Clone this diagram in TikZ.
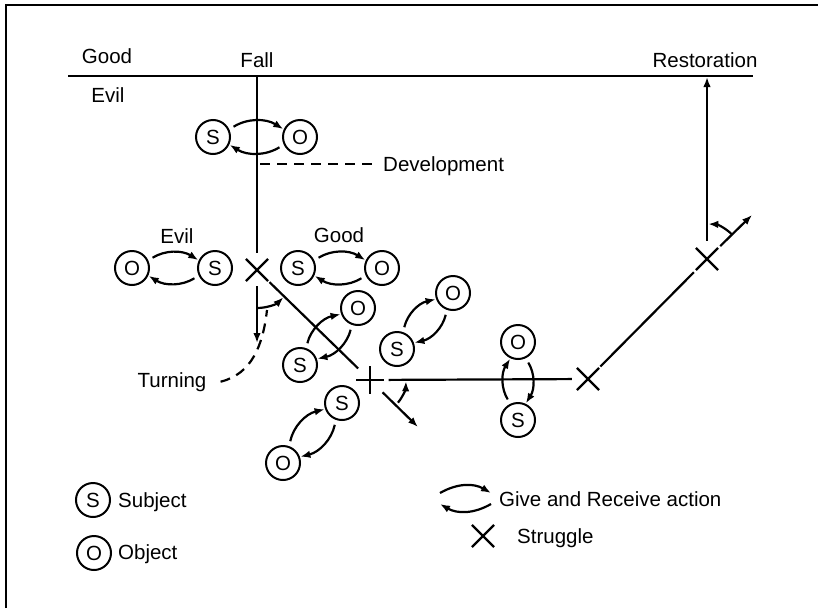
\documentclass[tikz,border=0pt]{standalone}
\usepackage{fontspec}
\setmainfont{Liberation Sans}
\usetikzlibrary{arrows.meta,calc,shapes.misc}
\newcommand\pairarr[3]{%
 \pgfmathtruncatemacro\pqa{#3+25}%
 \pgfmathtruncatemacro\pqb{#3+155}%
 \pgfmathtruncatemacro\pqc{#3+205}%
 \pgfmathtruncatemacro\pqd{mod(#3+335,360)}%
 \draw[arr,shorten <=5pt,shorten >=0.5pt] (#1.\pqa) to[bend left=32] (#2.\pqb);
 \draw[arr,shorten <=5pt,shorten >=0.5pt] (#2.\pqc) to[bend left=32] (#1.\pqd);}
\begin{document}
\begin{tikzpicture}[x=1pt,y=1pt,
  every node/.append style={font=\fontsize{20.5}{24}\selectfont},
  ln/.style={line width=2.2pt},
  arr/.style={line width=2.2pt,-{Latex[length=10pt,width=7.5pt]}},
  ent/.style={circle,draw,line width=2pt,minimum size=34pt,inner sep=0pt},
  dsh/.style={line width=2.2pt,dash pattern=on 10pt off 7pt},
  lbl/.style={inner sep=0pt,anchor=base},
  lblw/.style={inner sep=0pt,anchor=base west},
  xm/.style={cross out,draw,line width=2.2pt,minimum size=20pt,inner sep=0pt},
  pm/.style={cross out,draw,line width=2.2pt,minimum size=17pt,inner sep=0pt,rotate=45}]
\useasboundingbox (0,0) rectangle (818,-608);
\draw[line width=2.2pt] (6,-608) -- (6,-5) -- (818,-5);

% labels
\node[lbl] (good) at (107,-63) {Good};
\node[lbl] (fallt) at (257,-67) {Fall};
\node[lbl] (evil) at (108,-102) {Evil};
\node[lbl] (rest) at (705,-67) {Restoration};
\node[lbl] (evil2) at (177,-243) {Evil};
\node[lbl] (good2) at (339,-242) {Good};
\node[lbl] (turn) at (172,-387) {Turning};
\node[lblw] (dev) at (383,-171) {Development};

% top line
\coordinate (gl) at (68,-76);
\coordinate (gr) at (753,-76);
\draw[ln] (gl) -- (gr);

% struggle marks
\node[xm] (x1) at (257,-270) {};
\node[pm] (p1) at (370,-380) {};
\node[xm] (x2) at (588,-379) {};
\node[xm] (x3) at (707,-259) {};

% main path
\coordinate (fall) at (257,-76);
\draw[ln,shorten >=6pt] (fall) -- (x1);
\coordinate (down) at (257,-343);
\draw[arr,shorten <=5pt] (x1) -- (down);
\draw[ln,shorten <=2pt,shorten >=7pt] (x1) -- (p1);
\coordinate (pe) at (418,-427);
\draw[arr,shorten <=8pt] (p1) -- (pe);
\draw[ln,shorten <=5pt,shorten >=5pt] (p1) -- (x2);
\draw[ln,shorten <=2pt,shorten >=3pt] (x2) -- (x3);
\coordinate (ae) at (752,-215);
\draw[arr,shorten <=3pt] (x3) -- (ae);
\coordinate (rt) at (707,-77);
\draw[arr,shorten <=7pt] (x3) -- (rt);

% turning arcs
\draw[arr] ($(x1)+(-90:38)$) arc[start angle=-90,end angle=-46,radius=38];
\draw[arr] ($(p1)+(-39:36)$) arc[start angle=-39,end angle=-2,radius=36];
\draw[arr] ($(x3)+(45:35)$) arc[start angle=45,end angle=88,radius=35];

% dashed leaders
\draw[dsh] ([xshift=14pt]turn.east) .. controls (252,-374) and (263,-345) .. (267,-310);
\coordinate (devs) at (260,-164);
\draw[dsh,shorten >=7pt] (devs) -- (devs -| dev.west);

% subject-object pairs
\node[ent] (s1) at (213,-137) {S};
\node[ent] (o1) at (300,-137) {O};
\node[ent] (oe) at (132,-268) {O};
\node[ent] (se) at (215,-268) {S};
\node[ent] (sg) at (298,-268) {S};
\node[ent] (og) at (382,-268) {O};
\node[ent] (s4) at (300,-365) {S};
\node[ent] (o4) at (358,-308) {O};
\node[ent] (s5) at (397,-349) {S};
\node[ent] (o5) at (453,-293) {O};
\node[ent] (o6) at (283,-463) {O};
\node[ent] (s6) at (342,-403) {S};
\node[ent] (o7) at (518,-342) {O};
\node[ent] (s7) at (518,-420) {S};
\pairarr{s1}{o1}{0}
\pairarr{oe}{se}{0}
\pairarr{sg}{og}{0}
\pairarr{s4}{o4}{45}
\pairarr{s5}{o5}{45}
\pairarr{o6}{s6}{45}
\pairarr{s7}{o7}{90}

% legend
\node[ent] (ls) at (93,-500) {S};
\node[lblw] (subj) at (118,-507) {Subject};
\node[ent] (lo) at (94,-553) {O};
\node[lblw] (obj) at (118,-559) {Object};
\coordinate (g1) at (440,-493);
\coordinate (g2) at (491,-493);
\coordinate (g3) at (491,-504);
\coordinate (g4) at (440,-504);
\draw[arr] (g1) to[bend left=30] (g2);
\draw[arr] (g3) to[bend left=30] (g4);
\node[lblw] (give) at (499,-506) {Give and Receive action};
\node[xm] (lx) at (483,-536) {};
\node[lblw] (strg) at (517,-543) {Struggle};
\end{tikzpicture}
\end{document}
